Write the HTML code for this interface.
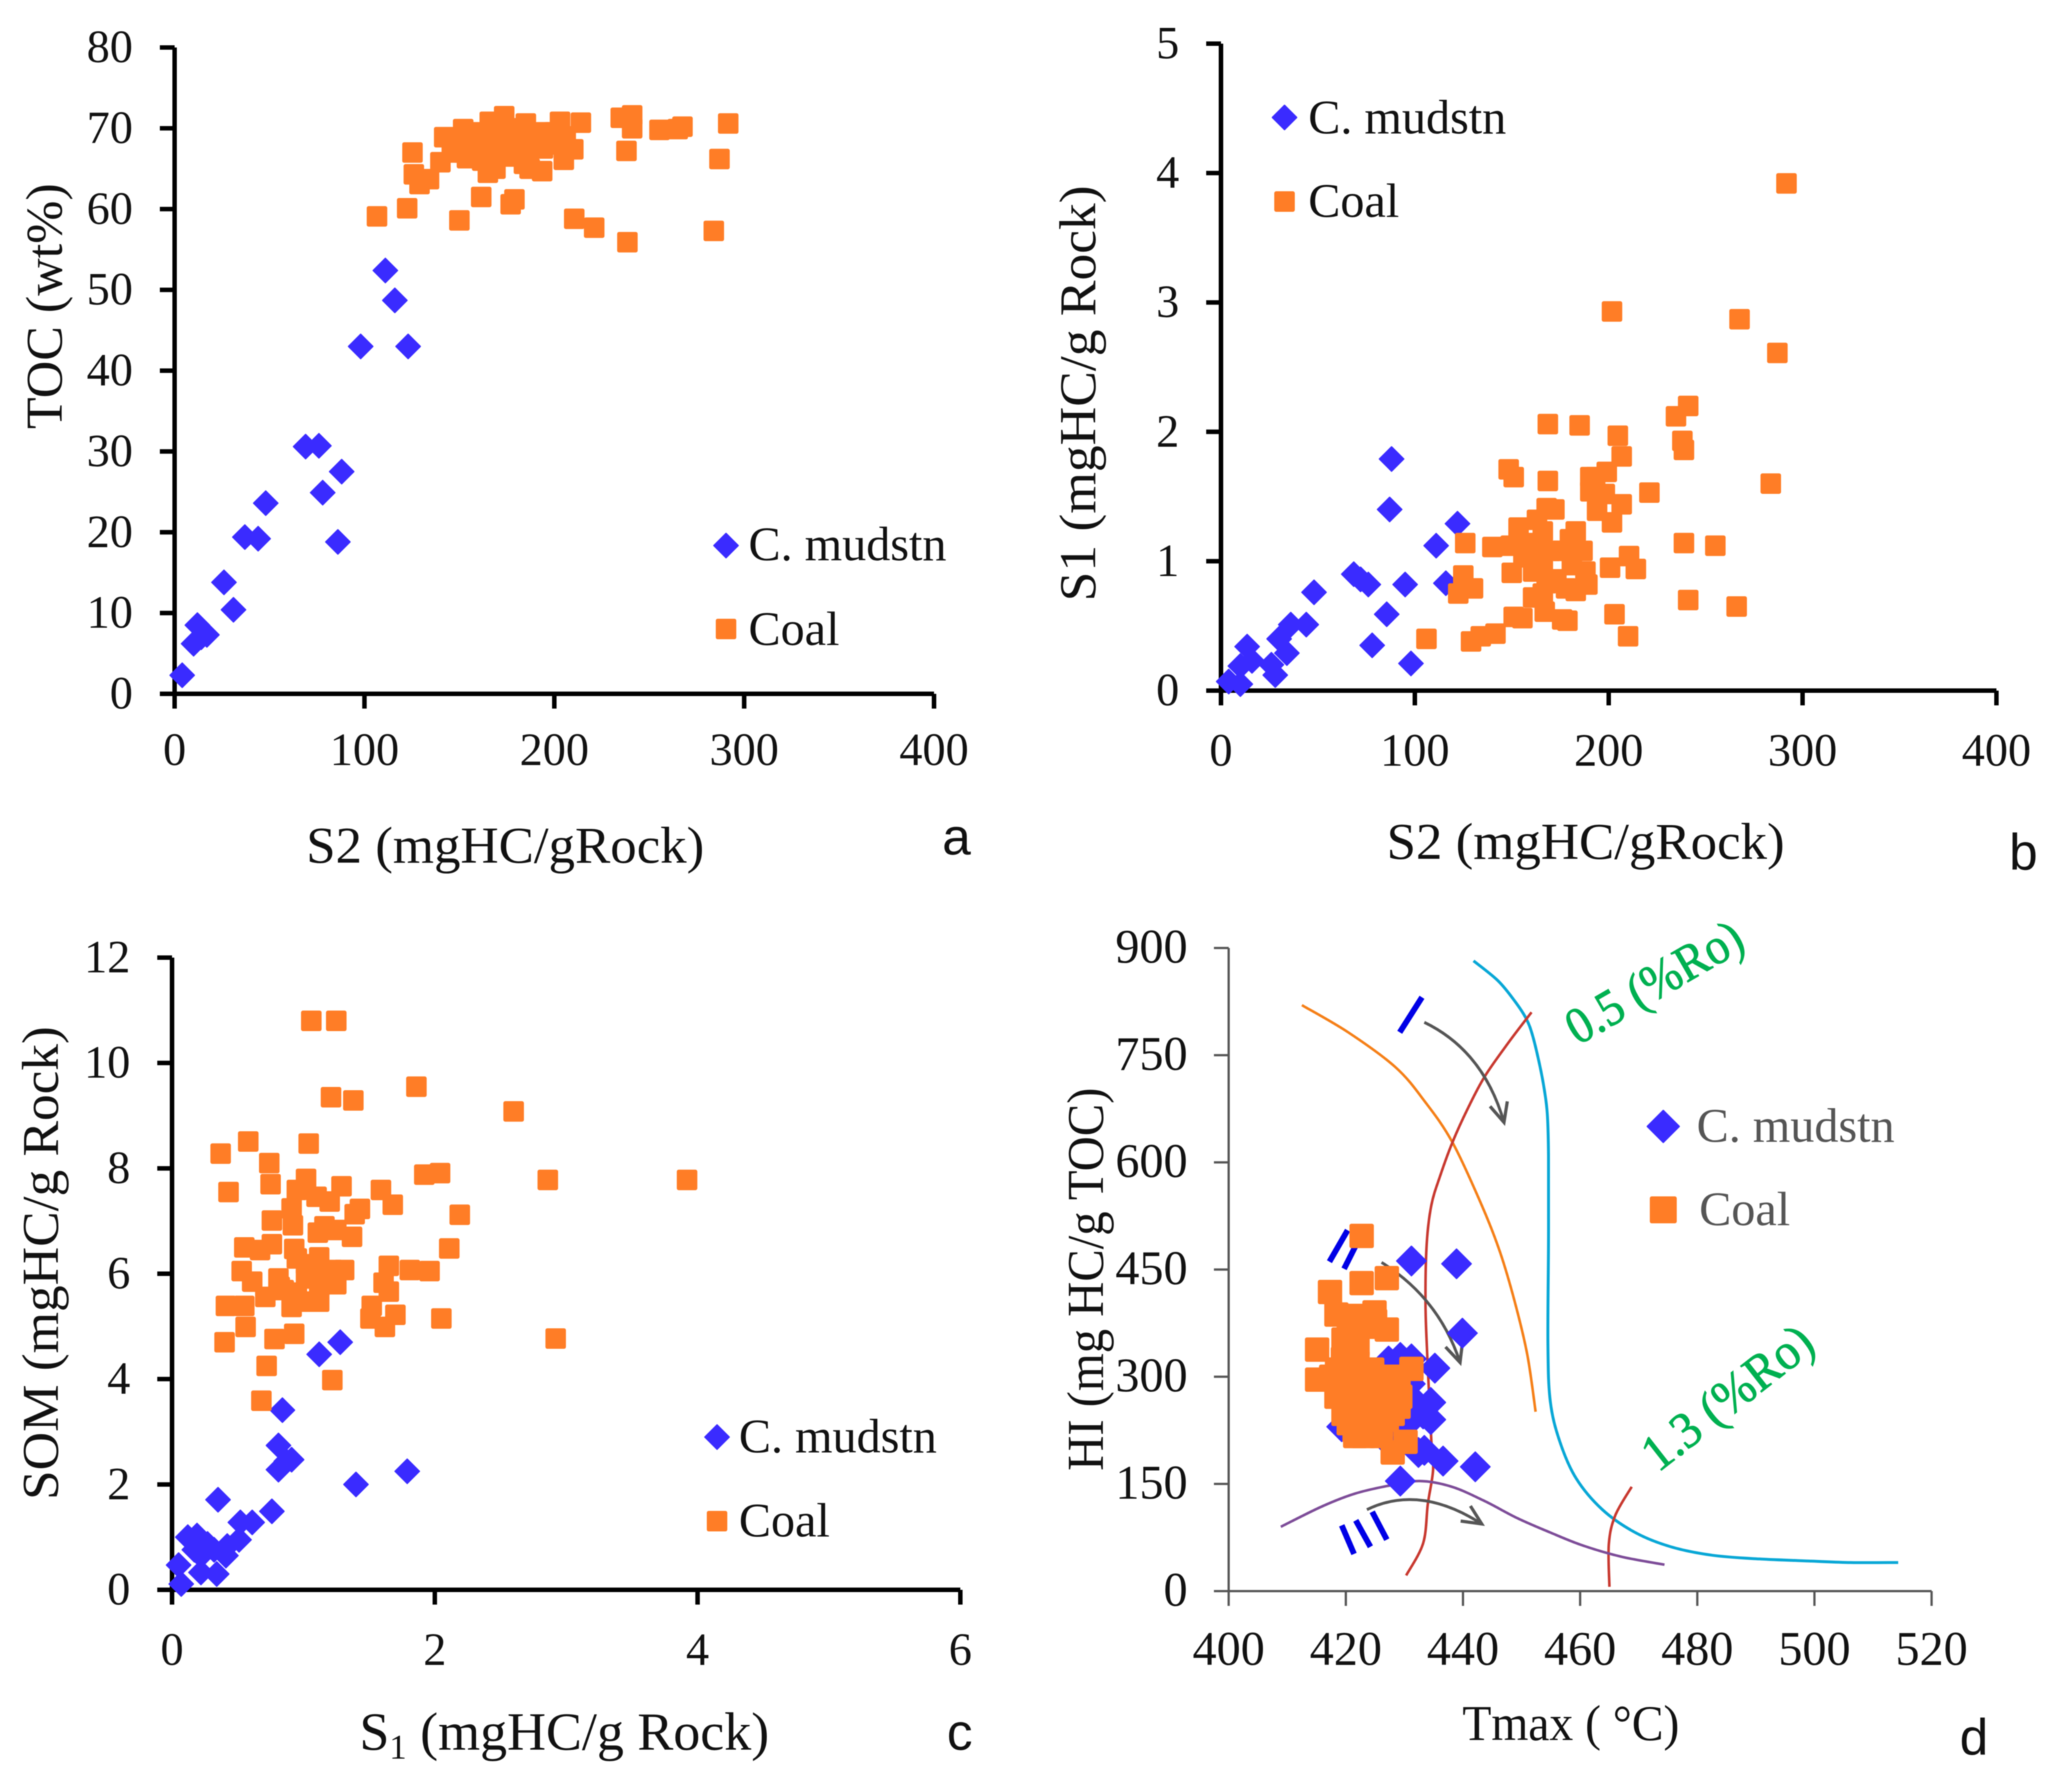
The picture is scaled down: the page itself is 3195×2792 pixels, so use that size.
<!DOCTYPE html>
<html lang="en">
<head>
<meta charset="utf-8">
<title>Geochemical cross-plots</title>
<style>
html,body{margin:0;padding:0;background:#fff;width:3195px;height:2792px;overflow:hidden}
svg{display:block;filter:blur(0.7px)}
text{font-family:"Liberation Serif","DejaVu Serif",serif;fill:#111}
</style>
</head>
<body>
<svg id="figure" xmlns="http://www.w3.org/2000/svg" width="3195" height="2792" viewBox="0 0 3195 2792">
<defs>
<marker id="arrow-head" markerUnits="userSpaceOnUse" markerWidth="60" markerHeight="60" refX="34" refY="30" orient="auto">
<path d="M4,16 L34,30 L4,44" fill="none" stroke="#555" stroke-width="5"/>
</marker>
</defs>
</svg>
<script>
/* ---------- Panel a: S2 vs TOC ---------- */
const aMudS2 = [4,10,12,14,17,26,31,37,44,48,69,76,78,86,88,98,111,116,123];
const aMudTOC = [2.3,6.2,8.5,7,7.3,13.8,10.4,19.4,19.2,23.6,30.6,30.7,24.9,18.8,27.5,43,52.4,48.7,43];
const aCoalS2 = [106.6,122.5,125.3,126,129,134,140,142,150,152,154,161.5,165,169,166,173.6,177,179,185,184,187,193.6,203,205,210,210.5,214,221,235,241,241,238,238.5,255.4,265,267.5,284,287,291.6,146,150,155,158,160,163,165,168,170,172,175,178,180,183,186,190,194,197,200,203,206,160,175,168,152,157,170,180,188,195,148,162,177];
const aCoalTOC = [59.1,60.1,67,64.3,63.1,63.7,65.8,68.9,58.6,69.9,66.3,61.5,64.5,65,70.8,71.5,60.6,61.2,70.6,65.6,65,64.7,70.8,66.1,67.4,58.8,70.7,57.7,71.3,71.6,70,67.2,55.9,69.8,69.9,70.2,57.3,66.2,70.6,68,67.5,68.5,67,69,67,68,69,67.5,69.5,68,69,67.5,68.5,67,68,67.5,68.5,69.5,68,69,66.5,66.5,70,67,69.5,70.2,70,69,69.5,67,66,67.5];
const aXTicks = [0,100,200,300,400];
const aYTicks = [0,10,20,30,40,50,60,70,80];

/* ---------- Panel b: S2 vs S1 ---------- */
const bMudS2 = [4,10,13.5,10,16,26,28,30,34,36,44,48,68.5,72,76,78,85.5,87,88,95,98,111,116,122];
const bMudS1 = [0.07,0.05,0.34,0.19,0.23,0.2,0.12,0.4,0.29,0.51,0.51,0.76,0.9,0.86,0.82,0.35,0.59,1.4,1.79,0.82,0.21,1.12,0.83,1.29];
const bCoalS2 = [106,122.4,126,125,130,129,134,141.6,140,148.4,151,150,151,155.5,149.4,153.5,168.6,185,168.6,190.5,193,199,190.5,198,194,204.7,206.7,201.7,267.5,287,291.7,234.7,241,238,238.8,283.6,221,206.7,201.7,238.8,255,210.5,214,200.7,203,210,241,266,168,172,163,166,183,180,186.5,158,156,161,166,170,176,181,188,189,183,178,173,168,161,166,167,176,178.7,163];
const bCoalS1 = [0.4,0.75,1.14,0.89,0.79,0.38,0.42,0.44,1.11,1.71,1.65,0.91,0.57,0.56,1.12,1.26,2.06,2.05,1.62,1.65,1.65,1.69,1.54,1.52,1.39,1.97,1.81,2.93,2.87,2.61,3.92,2.12,2.2,1.93,1.86,1.6,1.53,1.44,1.3,1.14,1.12,1.04,0.94,0.95,0.59,0.42,0.7,0.65,1.41,1.4,1.32,1.23,1.23,1.17,1.08,1.14,1.03,0.92,0.94,1.08,1.08,0.97,0.92,0.82,0.77,0.79,0.86,0.83,0.72,0.75,0.61,0.55,0.54,1.08];
const bXTicks = [0,100,200,300,400];
const bYTicks = [0,1,2,3,4,5];

/* ---------- Panel c: S1 vs SOM ---------- */
const cMudS1 = [0.05,0.07,0.12,0.19,0.27,0.22,0.22,0.32,0.34,0.35,0.41,0.42,0.51,0.52,0.61,0.76,0.81,0.81,0.87,0.91,0.84,1.12,1.28,1.4,1.79,0.17];
const cMudSOM = [0.47,0.11,1,1.03,0.87,0.65,0.33,0.76,0.3,1.71,0.65,0.83,0.95,1.28,1.28,1.49,2.28,2.74,2.44,2.47,3.41,4.47,4.7,2,2.25,0.76];
const cCoalS1 = [0.37,0.43,0.58,0.74,0.75,0.76,1.04,1.06,1.25,1.21,1.38,1.86,2.6,2.86,3.92,2.92,1.92,2.04,2.19,2.11,1.96,1.81,2.05,1.7,1.59,1.68,1.65,1.61,1.65,1.52,1.51,1.62,1.29,1.43,1.39,1.37,1.25,1.16,1.11,1.02,0.95,1.1,1.2,0.91,0.92,0.55,0.67,0.76,0.93,0.53,0.61,0.71,0.81,0.82,0.41,0.55,0.56,0.4,0.78,0.93,0.72,0.68,1.22,0.91,1.02,1.12,0.95,1.02,1.12,1.12,1.22,1.31,1.25,1.02,1.12,0.95,0.85];
const cCoalSOM = [8.28,7.55,8.51,8.1,7.7,7.01,8.47,10.8,10.8,9.35,9.29,9.55,9.08,7.78,7.78,4.77,7.88,7.91,7.12,6.48,6.05,6.07,5.15,5.22,7.59,7.31,6.15,5.83,5.66,5.39,5.15,4.99,7.66,7.23,7.13,6.7,6.83,6.9,6.78,7.8,7.59,7.46,7.37,7.24,6.92,6.5,6.45,6.56,6.47,6.05,5.85,5.56,5.91,5.75,5.39,5.39,4.99,4.7,4.76,4.86,4.25,3.59,3.98,5.37,5.47,5.47,6.29,6.18,6.31,6.02,6.07,6.07,5.8,5.91,5.75,5.64,5.69];
const cXTicks = [0,2,4,6];
const cYTicks = [0,2,4,6,8,10,12];

/* ---------- Panel d: Tmax vs HI ---------- */
const dMudTmax = [431.2,438.9,439.9,435.2,434.5,434.5,442.1,436.6,433.4,432.4,429.3,427.3,429.3,431.2,431.7,433.2,430.6,419.3,428,431];
const dMudHI = [462,458,361,312,264,240,174,182,197,194,154,322,327,325,266,248,235,230,202,290];
const dCoalTmax = [422.7,422.7,427,417.3,418.4,424.9,421.5,427,423.5,419.6,422,415.1,415.1,431.2,429.3,418.4,419.6,421.6,430.2,428,427,426,424,420.5,422,424.5,427,429,418.5,417.5,420,422,425,428,421,424,427,423,420.5,425,422.7,424,426,421.5,425,419.5,418.5,420,429,428,423,426,419,420.5,422,420.5,425];
const dCoalHI = [497,431,438,418.6,387,390,385,366,370,352,345,338,296,311,272,272,248,217,209,194,257,217,222,300,320,310,300,300,310,300,280,270,280,285,255,250,240,235,235,300,295,265,270,225,232,325,295,260,258,248,217,232,288,345,385,368,378];
const dXTicks = [400,420,440,460,480,500,520];
const dYTicks = [0,150,300,450,600,750,900];
const dMaturity05Tmax = [441.8,446,448.9,450.8,451.9,453.1,453.9,454.4,454.6,454.6,454.5,454.9,456.5,459.3,463.8,469.4,475.5,482.7,490.6,499.5,506.2,514.3];
const dMaturity05HI = [882,854,825,801,777,736,701,667,610,490,346,266,210,158,114,82,62,50,45,42,40,40];
const dTypeITmax = [412.5,420.4,428.5,433.5,438.2,443.2,446.3,448.9,451,452.4];
const dTypeIHI = [820,782,733,685,628,540,475,403,330,251];
const dBoundaryTmax = [430.3,433.2,434,434.9,434.6,433.9,433.6,433.8,434.6,436.1,438.2,440.8,443.7,447.8,451.7];
const dBoundaryHI = [22,67,122,170,210,330,403,485,540,581,628,675,720,768,810];
const dMaturity13Tmax = [465,464.9,466,468.8];
const dMaturity13HI = [6,66,106,146];
const dTypeIIITmax = [408.9,415.8,421.4,427,432.6,438.1,443.7,449.3,454.9,460.4,467.1,474.4];
const dTypeIIIHI = [90,118,136,147,154,146,126,102,82,64,48,37];

const NS = 'http://www.w3.org/2000/svg';
const figure = document.getElementById('figure');

function linear(d0, d1, r0, r1) {
  return function (v) { return r0 + (v - d0) * (r1 - r0) / (d1 - d0); };
}
function make(parent, tag, attrs, txt) {
  const el = document.createElementNS(NS, tag);
  for (const k in attrs) el.setAttribute(k, attrs[k]);
  if (txt !== undefined) el.textContent = txt;
  parent.appendChild(el);
  return el;
}
function label(parent, name, x, y, str, size, anchor, extra) {
  const attrs = { x: x, y: y, 'font-size': size, 'text-anchor': anchor };
  for (const k in extra || {}) attrs[k] = extra[k];
  const el = make(parent, 'text', attrs, str);
  
  
  return el;
}
function drawDiamond(parent, name, cx, cy, r) {
  const el = make(parent, 'path', {
    d: 'M' + cx + ',' + (cy - r) + 'L' + (cx + r) + ',' + cy + 'L' + cx + ',' + (cy + r) + 'L' + (cx - r) + ',' + cy + 'Z',
    fill: '#3a2bff', stroke: '#3a2bff', 'stroke-width': 2, 'stroke-linejoin': 'round'
  });
  
  
  return el;
}
function drawSquare(parent, name, cx, cy, half) {
  const el = make(parent, 'rect', {
    x: cx - half, y: cy - half, width: 2 * half, height: 2 * half, rx: 3, fill: '#ff7d26'
  });
  
  
  return el;
}

function drawAxes(g, p, sx, sy, xTicks, yTicks) {
  const axisColor = p.axisColor;
  const xAxis = make(g, 'path', {
    d: 'M' + p.x0 + ',' + p.y0 + 'H' + p.x1, stroke: axisColor, 'stroke-width': p.axisWidth, fill: 'none'
  });
  
  
  const yAxis = make(g, 'path', {
    d: 'M' + p.x0 + ',' + p.y1 + 'V' + p.y0, stroke: axisColor, 'stroke-width': p.axisWidth, fill: 'none'
  });
  
  
  xTicks.forEach(function (t) {
    const tx = sx(t);
    const tick = make(g, 'path', {
      d: 'M' + tx + ',' + p.y0 + 'V' + (p.y0 + 23), stroke: axisColor, 'stroke-width': p.axisWidth, fill: 'none'
    });
    
    
    label(g, 'x-tick-label', tx, p.xLabelY, String(t), p.tickSize, 'middle');
  });
  yTicks.forEach(function (t) {
    const ty = sy(t);
    const tick = make(g, 'path', {
      d: 'M' + (p.x0 - 23) + ',' + ty + 'H' + p.x0, stroke: axisColor, 'stroke-width': p.axisWidth, fill: 'none'
    });
    
    
    label(g, 'y-tick-label', p.x0 - p.yLabelGap, ty + 23, String(t), p.tickSize, 'end');
  });
}

function drawSeries(g, seriesName, xs, ys, sx, sy, kind, size) {
  const sg = make(g, 'g', {});
  
  
  xs.forEach(function (v, i) {
    if (kind === 'diamond') drawDiamond(sg, 'mudstone-point', sx(v), sy(ys[i]), size);
    else drawSquare(sg, 'coal-point', sx(v), sy(ys[i]), size);
  });
}

function drawLegend(g, lg) {
  const lgGroup = make(g, 'g', {});
  
  
  drawDiamond(lgGroup, 'legend-mudstone-marker', lg.mx, lg.my1, lg.dr);
  drawSquare(lgGroup, 'legend-coal-marker', lg.mx, lg.my2, lg.sh);
  label(lgGroup, 'legend-mudstone-label', lg.tx, lg.by1, 'C. mudstn', 75, 'start', lg.color ? { style: 'fill:' + lg.color } : {});
  label(lgGroup, 'legend-coal-label', lg.tx2 || lg.tx, lg.by2, 'Coal', 75, 'start', lg.color ? { style: 'fill:' + lg.color } : {});
}

function yTitle(g, str, bx, cy, len) {
  const el = label(g, 'y-axis-title', 0, 0, str, 80, 'middle', {
    transform: 'translate(' + bx + ',' + cy + ') rotate(-90)',
    textLength: len, lengthAdjust: 'spacingAndGlyphs'
  });
  return el;
}
function panelLetter(g, name, x, y, str) {
  label(g, name, x, y, str, 80, 'middle', { style: 'font-family:"Liberation Sans",sans-serif' });
}
function panelGroup(name) {
  const g = make(figure, 'g', {});
  
  
  return g;
}

/* Panel a */
(function () {
  const g = panelGroup('panel-a-toc-vs-s2');
  const p = { x0: 272, x1: 1455, y0: 1081, y1: 74, xLabelY: 1192, yLabelGap: 65, tickSize: 72, axisColor: '#000', axisWidth: 7 };
  const sx = linear(0, 400, p.x0, p.x1);
  const sy = linear(0, 80, p.y0, p.y1);
  drawAxes(g, p, sx, sy, aXTicks, aYTicks);
  drawSeries(g, 'mudstone-series', aMudS2, aMudTOC, sx, sy, 'diamond', 19);
  drawSeries(g, 'coal-series', aCoalS2, aCoalTOC, sx, sy, 'square', 16);
  drawLegend(g, { mx: 1131, my1: 850, my2: 980, tx: 1166, by1: 873, by2: 1005, dr: 19, sh: 16 });
  yTitle(g, 'TOC (wt%)', 96, 477, 383);
  label(g, 'x-axis-title', 787, 1344, 'S2 (mgHC/gRock)', 80, 'middle', { textLength: 620, lengthAdjust: 'spacingAndGlyphs' });
  panelLetter(g, 'panel-letter-a', 1490, 1331, 'a');
})();

/* Panel b */
(function () {
  const g = panelGroup('panel-b-s1-vs-s2');
  const p = { x0: 1902, x1: 3110, y0: 1076, y1: 68, xLabelY: 1193, yLabelGap: 65, tickSize: 72, axisColor: '#000', axisWidth: 7 };
  const sx = linear(0, 400, p.x0, p.x1);
  const sy = linear(0, 5, p.y0, p.y1);
  drawAxes(g, p, sx, sy, bXTicks, bYTicks);
  drawSeries(g, 'mudstone-series', bMudS2, bMudS1, sx, sy, 'diamond', 19);
  drawSeries(g, 'coal-series', bCoalS2, bCoalS1, sx, sy, 'square', 16);
  drawLegend(g, { mx: 2001, my1: 183, my2: 314, tx: 2038, by1: 208, by2: 338, dr: 19, sh: 16 });
  yTitle(g, 'S1 (mgHC/g Rock)', 1706, 613, 648);
  label(g, 'x-axis-title', 2470, 1338, 'S2 (mgHC/gRock)', 80, 'middle', { textLength: 620, lengthAdjust: 'spacingAndGlyphs' });
  panelLetter(g, 'panel-letter-b', 3152, 1355, 'b');
})();

/* Panel c */
(function () {
  const g = panelGroup('panel-c-som-vs-s1');
  const p = { x0: 268, x1: 1496, y0: 2477, y1: 1492, xLabelY: 2594, yLabelGap: 65, tickSize: 72, axisColor: '#000', axisWidth: 7 };
  const sx = linear(0, 6, p.x0, p.x1);
  const sy = linear(0, 12, p.y0, p.y1);
  drawAxes(g, p, sx, sy, cXTicks, cYTicks);
  drawSeries(g, 'mudstone-series', cMudS1, cMudSOM, sx, sy, 'diamond', 19);
  drawSeries(g, 'coal-series', cCoalS1, cCoalSOM, sx, sy, 'square', 16);
  drawLegend(g, { mx: 1117, my1: 2239, my2: 2370, tx: 1151, by1: 2263, by2: 2394, dr: 19, sh: 16 });
  yTitle(g, 'SOM (mgHC/g Rock)', 90, 1968, 738);
  const title = label(g, 'x-axis-title', 879, 2726, 'S', 84, 'middle');
  const sub = make(title, 'tspan', { dy: 14, 'font-size': 54 }, '1');
  
  
  const rest = make(title, 'tspan', { dy: -14 }, ' (mgHC/g Rock)');
  
  
  panelLetter(g, 'panel-letter-c', 1495, 2726, 'c');
})();

/* Panel d */
(function () {
  const g = panelGroup('panel-d-hi-vs-tmax');
  const p = { x0: 1914, x1: 3009, y0: 2479, y1: 1477, xLabelY: 2594, yLabelGap: 64, tickSize: 75, axisColor: '#555', axisWidth: 3.5 };
  const sx = linear(400, 520, p.x0, p.x1);
  const sy = linear(0, 900, p.y0, p.y1);
  drawAxes(g, p, sx, sy, dXTicks, dYTicks);

  function smooth(xs, ys) {
    const pts = xs.map(function (v, i) { return [sx(v), sy(ys[i])]; });
    let d = 'M' + pts[0][0] + ',' + pts[0][1];
    for (let i = 0; i < pts.length - 1; i++) {
      const a = pts[Math.max(i - 1, 0)], b = pts[i], c = pts[i + 1], e = pts[Math.min(i + 2, pts.length - 1)];
      d += 'C' + (b[0] + (c[0] - a[0]) / 6) + ',' + (b[1] + (c[1] - a[1]) / 6) + ' ' +
        (c[0] - (e[0] - b[0]) / 6) + ',' + (c[1] - (e[1] - b[1]) / 6) + ' ' + c[0] + ',' + c[1];
    }
    return d;
  }
  const c1 = make(g, 'path', { d: smooth(dMaturity05Tmax, dMaturity05HI), fill: 'none', stroke: '#08a7d6', 'stroke-width': 4.5 });
  
  
  const c2 = make(g, 'path', { d: smooth(dTypeITmax, dTypeIHI), fill: 'none', stroke: '#f57f17', 'stroke-width': 4 });
  
  
  const c3 = make(g, 'path', { d: smooth(dBoundaryTmax, dBoundaryHI), fill: 'none', stroke: '#c8382f', 'stroke-width': 4 });
  
  
  const c4 = make(g, 'path', { d: smooth(dMaturity13Tmax, dMaturity13HI), fill: 'none', stroke: '#c8382f', 'stroke-width': 4 });
  
  
  const c5 = make(g, 'path', { d: smooth(dTypeIIITmax, dTypeIIIHI), fill: 'none', stroke: '#7d4c98', 'stroke-width': 4 });
  
  

  function arrow(name, a, ctrl, b) {
    const el = make(g, 'path', {
      d: 'M' + sx(a[0]) + ',' + sy(a[1]) + 'Q' + sx(ctrl[0]) + ',' + sy(ctrl[1]) + ' ' + sx(b[0]) + ',' + sy(b[1]),
      fill: 'none', stroke: '#555', 'stroke-width': 4.5, 'marker-end': 'url(#arrow-head)'
    });
    
    
  }
  arrow('type-i-maturation-arrow', [433.4, 796], [443.5, 756], [447, 656]);
  arrow('type-ii-maturation-arrow', [426.1, 460], [435.9, 410], [439.5, 320]);
  arrow('type-iii-maturation-arrow', [423.6, 114], [432.6, 150], [443.2, 94]);

  function stroke(name, a, b) {
    const el = make(g, 'path', {
      d: 'M' + sx(a[0]) + ',' + sy(a[1]) + 'L' + sx(b[0]) + ',' + sy(b[1]),
      stroke: '#0000e6', 'stroke-width': 9, fill: 'none'
    });
    
    
  }
  stroke('kerogen-type-i-mark', [429.2, 782], [433, 831]);
  stroke('kerogen-type-ii-mark-1', [417.2, 461], [420.3, 505]);
  stroke('kerogen-type-ii-mark-2', [419.7, 451], [421.6, 482]);
  stroke('kerogen-type-iii-mark-1', [421.4, 52], [419.3, 92]);
  stroke('kerogen-type-iii-mark-2', [424.2, 62], [421.7, 99]);
  stroke('kerogen-type-iii-mark-3', [427, 72], [424.5, 111]);

  drawSeries(g, 'mudstone-series', dMudTmax, dMudHI, sx, sy, 'diamond', 23);
  drawSeries(g, 'coal-series', dCoalTmax, dCoalHI, sx, sy, 'square', 19);
  drawLegend(g, { mx: 2591, my1: 1755, my2: 1885, tx: 2643, tx2: 2647, by1: 1779, by2: 1909, dr: 25, sh: 21, color: '#555' });
  yTitle(g, 'HI (mg HC/g TOC)', 1718, 1993, 597);
  label(g, 'x-axis-title', 2447, 2711, 'Tmax ( \u00B0C)', 78, 'middle', { textLength: 338, lengthAdjust: 'spacingAndGlyphs' });
  panelLetter(g, 'panel-letter-d', 3075, 2734, 'd');
  label(g, 'maturity-label-0-5-ro', 0, 0, '0.5 (%Ro)', 80, 'middle', {
    transform: 'translate(2590,1553) rotate(-30)', style: 'fill:#00b050;stroke:#00b050;stroke-width:1.2', textLength: 305, lengthAdjust: 'spacingAndGlyphs'
  });
  label(g, 'maturity-label-1-3-ro', 0, 0, '1.3 (%Ro)', 80, 'middle', {
    transform: 'translate(2707,2198) rotate(-38)', style: 'fill:#00b050;stroke:#00b050;stroke-width:1.2', textLength: 315, lengthAdjust: 'spacingAndGlyphs'
  });
})();
</script>
</body>
</html>
